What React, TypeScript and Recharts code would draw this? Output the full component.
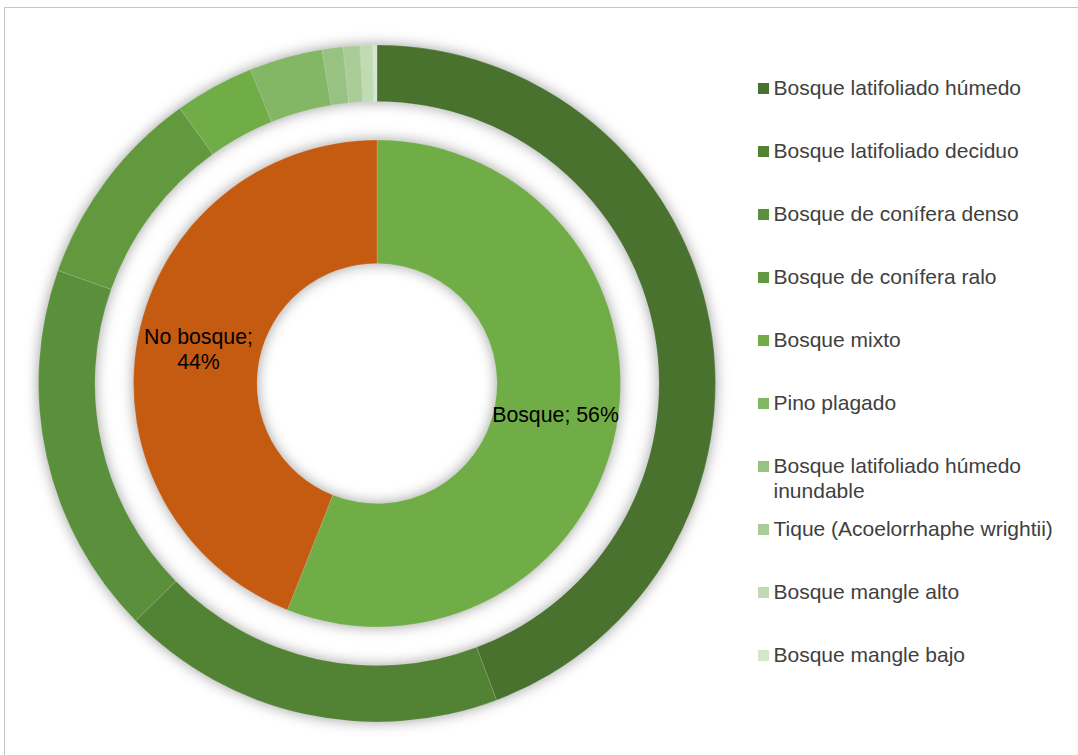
import { PieChart, Pie, Cell, Legend } from 'recharts'

// tipos de bosque (anillo exterior), % del área de bosque
const forestTypes = [
  'Bosque latifoliado húmedo',
  'Bosque latifoliado deciduo',
  'Bosque de conífera denso',
  'Bosque de conífera ralo',
  'Bosque mixto',
  'Pino plagado',
  'Bosque latifoliado húmedo inundable',
  'Tique (Acoelorrhaphe wrightii)',
  'Bosque mangle alto',
  'Bosque mangle bajo',
]
const forestValues = [44.3, 18.4, 17.8, 9.7, 3.8, 3.5, 1.0, 0.8, 0.6, 0.2]
const forestColors = [
  '#48722e', '#528233', '#5a8f3b', '#62993e', '#70ad47',
  '#83b766', '#98c282', '#aacd98', '#c0dab2', '#d5e6cb',
]

// cobertura (anillo interior)
const coverNames = ['Bosque', 'No bosque']
const coverValues = [56, 44]
const coverColors = ['#70ad47', '#c55a11']

const outerData = forestTypes.map((name, i) => ({ name, value: forestValues[i] }))
const innerData = coverNames.map((name, i) => ({ name, value: coverValues[i] }))
const sum = (a: number[]) => a.reduce((s, v) => s + v, 0)

const CX = 377
const CY = 383.5
const FONT = '"Liberation Sans", Arial, sans-serif'
const RAD = Math.PI / 180

function CoverLabel(props: any) {
  const { cx, cy, midAngle, innerRadius, outerRadius, name, percent } = props
  const r = (innerRadius + outerRadius) / 2
  const x = cx + r * Math.cos(-midAngle * RAD)
  const y = cy + r * Math.sin(-midAngle * RAD)
  const pct = `${Math.round(percent * 100)}%`
  const style = { fontFamily: FONT, fontSize: 21.3, fill: '#000' }
  if (name.includes(' ')) {
    return (
      <text x={x} y={y} textAnchor="middle" style={style}>
        <tspan x={x} dy={-5}>{name};</tspan>
        <tspan x={x} dy={25}>{pct}</tspan>
      </text>
    )
  }
  return (
    <text x={x} y={y} dy={4} textAnchor="middle" style={style}>
      {`${name}; ${pct}`}
    </text>
  )
}

function ForestLegend() {
  return (
    <div style={{ position: 'relative', width: 1078, height: 755 }}>
      {forestTypes.map((name, i) => (
        <div
          key={name}
          style={{
            position: 'absolute',
            left: 758,
            top: 88 + i * 63.1 - 12.5,
            display: 'flex',
            alignItems: 'flex-start',
            fontFamily: FONT,
            fontSize: 21,
            lineHeight: '24.7px',
            color: '#404040',
          }}
        >
          <span
            style={{
              width: 11,
              height: 11,
              marginTop: 7,
              marginRight: 4.5,
              background: forestColors[i],
              flex: 'none',
            }}
          />
          <span style={{ maxWidth: 300 }}>{name}</span>
        </div>
      ))}
    </div>
  )
}

export default function App() {
  return (
    <div style={{ position: 'fixed', left: 0, top: 0, width: 1078, height: 755, background: '#fff', overflow: 'hidden' }}>
      <div
        style={{
          position: 'absolute',
          left: 4,
          top: 7,
          width: 1090,
          height: 770,
          border: '1.5px solid #c6c6c6',
        }}
      />
      <div style={{ position: 'absolute', left: 0, top: 0 }}>
        <PieChart width={1078} height={755} margin={{ top: 0, right: 0, bottom: 0, left: 0 }}>
          {/* sombras */}
          <Pie
            data={[{ value: sum(forestValues) }]}
            dataKey="value"
            cx={CX}
            cy={CY}
            innerRadius={282}
            outerRadius={338.5}
            stroke="none"
            isAnimationActive={false}
          >
            <Cell fill="rgba(0,0,0,0.38)" style={{ filter: 'blur(7px)' }} />
          </Pie>
          <Pie
            data={[{ value: sum(coverValues) }]}
            dataKey="value"
            cx={CX}
            cy={CY}
            innerRadius={120}
            outerRadius={243.5}
            stroke="none"
            isAnimationActive={false}
          >
            <Cell fill="rgba(0,0,0,0.38)" style={{ filter: 'blur(7px)' }} />
          </Pie>
          <Pie
            data={outerData}
            dataKey="value"
            nameKey="name"
            cx={CX}
            cy={CY}
            startAngle={90}
            endAngle={-270}
            innerRadius={282}
            outerRadius={338.5}
            stroke="rgba(255,255,255,0.25)"
            strokeWidth={0.6}
            isAnimationActive={false}
          >
            {outerData.map((d, i) => (
              <Cell key={d.name} fill={forestColors[i]} />
            ))}
          </Pie>
          <Pie
            data={innerData}
            dataKey="value"
            nameKey="name"
            cx={CX}
            cy={CY}
            startAngle={90}
            endAngle={-270}
            innerRadius={120}
            outerRadius={243.5}
            stroke="rgba(255,255,255,0.25)"
            strokeWidth={0.6}
            label={CoverLabel}
            labelLine={false}
            isAnimationActive={false}
          >
            {innerData.map((d, i) => (
              <Cell key={d.name} fill={coverColors[i]} />
            ))}
          </Pie>
          <Legend
            content={() => <ForestLegend />}
            wrapperStyle={{ position: 'absolute', left: 0, top: 0, width: 1078, height: 755 }}
          />
        </PieChart>
      </div>
    </div>
  )
}
